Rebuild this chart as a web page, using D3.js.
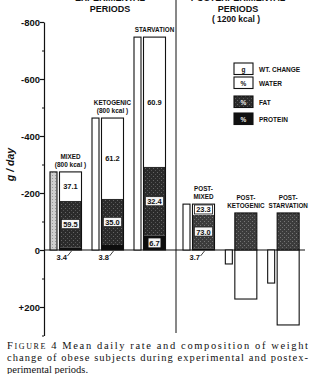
<!DOCTYPE html>
<html>
<head>
<meta charset="utf-8">
<script src="https://cdn.jsdelivr.net/npm/d3@7"></script>
<style>
  body { margin: 0; background: #fff; }
  svg { display: block; }
  text { fill: #111; }
</style>
</head>
<body>
<div id="chart"></div>
<script>
// groups, left 3 = experimental, right 3 = postexperimental
const expGroups = ["MIXED", "KETOGENIC", "STARVATION"];
const postGroups = ["POST-MIXED", "POST-KETOGENIC", "POST-STARVATION"];
const groupLines = [["MIXED", "(800 kcal )"], ["KETOGENIC", "(800 kcal )"], ["STARVATION"],
                    ["POST-", "MIXED"], ["POST-", "KETOGENIC"], ["POST-", "STARVATION"]];
// weight change g/day (negative = loss, drawn upward)
const wtChange = [-274, -463, -747, -161, 49, 116];
// composition of the loss, % (first four groups)
const waterPct = [37.1, 61.2, 60.9, 23.3];
const fatPct = [59.5, 35.0, 32.4, 73.0];
const proteinPct = [3.4, 3.8, 6.7, 3.7];
// post-ketogenic / post-starvation components, g/day
const postWater = [172, 263];
const postFat = [-130, -130];
const yTicks = [-800, -600, -400, -200, 0, 200];
const yMinor = [-700, -500, -300, -100, 100, 300];
const legendItems = [["g", "WT. CHANGE"], ["%", "WATER"], ["%", "FAT"], ["%", "PROTEIN"]];

const W = 322, H = 374;
const svg = d3.select("#chart").append("svg").attr("width", W).attr("height", H);

const defs = svg.append("defs");
// stipple for fat
const pat = defs.append("pattern").attr("id", "fat").attr("width", 4).attr("height", 4)
  .attr("patternUnits", "userSpaceOnUse");
pat.append("rect").attr("width", 4).attr("height", 4).attr("fill", "#2b2b2b");
pat.append("rect").attr("x", 1).attr("y", 0).attr("width", 1).attr("height", 1).attr("fill", "#666");
pat.append("rect").attr("x", 3).attr("y", 2).attr("width", 1).attr("height", 1).attr("fill", "#555");
const pat2 = defs.append("pattern").attr("id", "fatlight").attr("width", 4).attr("height", 4)
  .attr("patternUnits", "userSpaceOnUse");
pat2.append("rect").attr("width", 4).attr("height", 4).attr("fill", "#3c3c3c");
pat2.append("rect").attr("x", 0).attr("y", 1).attr("width", 1).attr("height", 1).attr("fill", "#777");
pat2.append("rect").attr("x", 2).attr("y", 3).attr("width", 1).attr("height", 1).attr("fill", "#6a6a6a");
const pat3 = defs.append("pattern").attr("id", "gray").attr("width", 3).attr("height", 3)
  .attr("patternUnits", "userSpaceOnUse");
pat3.append("rect").attr("width", 3).attr("height", 3).attr("fill", "#cfcfcf");
pat3.append("rect").attr("x", 1).attr("y", 1).attr("width", 1).attr("height", 1).attr("fill", "#999");

const y = d3.scaleLinear().domain([-800, 300]).range([22, 335.5]);
const xExp = d3.scaleBand().domain(expGroups).range([50, 176]);
const xPost = d3.scaleBand().domain(postGroups).range([183, 310]);
const allGroups = expGroups.concat(postGroups);
const bandX = (i) => i < 3 ? xExp(expGroups[i]) : xPost(postGroups[i - 3]);
const narrowW = 7, wideOff = 9.5, wideW = 22;

const sans = "'Liberation Sans', Arial, sans-serif";

// axis
const axis = svg.append("g").attr("transform", "translate(44,0)")
  .call(d3.axisLeft(y).tickValues(yTicks).tickSize(4).tickSizeOuter(0)
    .tickFormat(d => d > 0 ? "+" + d : d < 0 ? "-" + Math.abs(d) : "0"));
axis.select(".domain").attr("stroke", "#111").attr("stroke-width", 1.2);
axis.selectAll(".tick line").attr("stroke", "#111").attr("stroke-width", 1.2);
axis.selectAll(".tick text").attr("font-family", sans).attr("font-weight", "bold")
  .attr("font-size", 9.5).attr("x", -4).attr("fill", "#111");
svg.append("g").attr("transform", "translate(44,0)")
  .call(d3.axisLeft(y).tickValues(yMinor).tickSize(2).tickFormat(""))
  .call(g => g.select(".domain").remove())
  .selectAll("line").attr("stroke", "#111");

svg.append("text").attr("transform", "translate(14," + y(-300) + ") rotate(-90)")
  .attr("text-anchor", "middle").attr("font-family", sans).attr("font-weight", "bold")
  .attr("font-style", "italic").attr("font-size", 10.5).text("g / day");

// zero line and divider
svg.append("line").attr("x1", 44).attr("x2", 305).attr("y1", y(0)).attr("y2", y(0))
  .attr("stroke", "#111").attr("stroke-width", 1.2);
svg.append("line").attr("x1", 176).attr("x2", 176).attr("y1", 0).attr("y2", 333)
  .attr("stroke", "#111").attr("stroke-width", 1);

// titles (first line runs off the top edge, as in the scan)
const title = svg.append("g").attr("font-family", sans).attr("font-weight", "bold")
  .attr("font-size", 9).attr("text-anchor", "middle");
title.append("text").attr("x", 110).attr("y", 0.5).text("EXPERIMENTAL");
title.append("text").attr("x", 110).attr("y", 11.5).text("PERIODS");
title.append("text").attr("x", 238).attr("y", 0.5).text("POSTEXPERIMENTAL");
title.append("text").attr("x", 238).attr("y", 11.5).text("PERIODS");
title.append("text").attr("x", 236).attr("y", 21.5).attr("font-size", 8.5).text("( 1200 kcal )");

// bars
const bars = svg.append("g");
allGroups.forEach((g, i) => {
  const x0 = bandX(i);
  const t = wtChange[i];
  // narrow wt-change bar
  bars.append("rect").attr("x", x0).attr("width", narrowW)
    .attr("y", y(Math.min(0, t))).attr("height", Math.abs(y(t) - y(0)))
    .attr("fill", i === 0 ? "url(#gray)" : "#fff").attr("stroke", "#111").attr("stroke-width", 1.1);
  const wx = x0 + wideOff;
  const cx = wx + wideW / 2;
  if (i < 4) {
    const prot = t * proteinPct[i] / 100;
    const fat = t * fatPct[i] / 100;
    const segs = [
      { a: 0, b: prot, fill: "#0d0d0d" },
      { a: prot, b: prot + fat, fill: i === 3 ? "url(#fatlight)" : "url(#fat)" },
      { a: prot + fat, b: t, fill: "#fff" }
    ];
    bars.selectAll(null).data(segs).join("rect")
      .attr("x", wx).attr("width", wideW)
      .attr("y", d => y(d.b)).attr("height", d => y(d.a) - y(d.b))
      .attr("fill", d => d.fill);
    bars.append("rect").attr("x", wx).attr("width", wideW).attr("y", y(t))
      .attr("height", y(0) - y(t)).attr("fill", "none").attr("stroke", "#111").attr("stroke-width", 1.1);
    // water label
    const wy = y(prot + fat + (t - prot - fat) / 2);
    if (i === 3) {
      bars.append("rect").attr("x", cx - 9).attr("y", wy - 4.5).attr("width", 18).attr("height", 9)
        .attr("fill", "#fff").attr("stroke", "#111").attr("stroke-width", 0.8);
    }
    bars.append("text").attr("x", cx).attr("y", wy + 3).attr("text-anchor", "middle")
      .attr("font-family", sans).attr("font-weight", "bold").attr("font-size", 7.5)
      .text(waterPct[i].toFixed(1));
    // fat label in white box
    const fy = y(prot + fat / 2);
    bars.append("rect").attr("x", cx - 9).attr("y", fy - 4.5).attr("width", 18).attr("height", 9)
      .attr("fill", "#f4f4f4").attr("stroke", "#111").attr("stroke-width", 0.6);
    bars.append("text").attr("x", cx).attr("y", fy + 3).attr("text-anchor", "middle")
      .attr("font-family", sans).attr("font-weight", "bold").attr("font-size", 7.5)
      .text(fatPct[i].toFixed(1));
    // protein label
    if (i === 2) {
      const py = y(prot / 2);
      bars.append("rect").attr("x", cx - 6).attr("y", py - 4.5).attr("width", 12).attr("height", 9)
        .attr("fill", "#f4f4f4");
      bars.append("text").attr("x", cx).attr("y", py + 3).attr("text-anchor", "middle")
        .attr("font-family", sans).attr("font-weight", "bold").attr("font-size", 7.5)
        .text(proteinPct[i].toFixed(1));
    } else {
      bars.append("text").attr("x", wx - 3).attr("y", y(0) + 10)
        .attr("font-family", sans).attr("font-weight", "bold").attr("font-size", 7.5)
        .text(proteinPct[i].toFixed(1));
      bars.append("path")
        .attr("d", d3.line()([[wx + 8, y(0) + 6], [wx + 12, y(0) + 1]]))
        .attr("stroke", "#111").attr("stroke-width", 0.8);
    }
  } else {
    const wv = postWater[i - 4], fv = postFat[i - 4];
    bars.append("rect").attr("x", wx).attr("width", wideW).attr("y", y(0))
      .attr("height", y(wv) - y(0)).attr("fill", "#fff").attr("stroke", "#111").attr("stroke-width", 1.1);
    bars.append("rect").attr("x", wx).attr("width", wideW).attr("y", y(fv))
      .attr("height", y(0) - y(fv)).attr("fill", "url(#fatlight)").attr("stroke", "#111").attr("stroke-width", 1.1);
  }
  // group label above top of bar, centred on the wide bar
  const top = i < 4 ? t : postFat[i - 4];
  const lines = groupLines[i];
  lines.forEach((ln, k) => {
    bars.append("text").attr("x", cx).attr("y", y(top) - 5 - (lines.length - 1 - k) * 8)
      .attr("text-anchor", "middle").attr("font-family", sans).attr("font-weight", "bold")
      .attr("font-size", ln.startsWith("(") ? 6.5 : 6.3).text(ln);
  });
});

// legend
const leg = svg.append("g").attr("font-family", sans).attr("font-weight", "bold");
legendItems.forEach((d, i) => {
  const ly = [63, 77, 96, 113][i];
  const dark = i >= 2;
  leg.append("rect").attr("x", 234).attr("y", ly).attr("width", 19).attr("height", 11.5)
    .attr("fill", i === 2 ? "url(#fat)" : i === 3 ? "#111" : "#fff")
    .attr("stroke", "#111").attr("stroke-width", 1.1);
  leg.append("text").attr("x", 243.5).attr("y", ly + 8.5).attr("text-anchor", "middle")
    .attr("font-size", 6.5).style("fill", dark ? "#eee" : "#111").text(d[0]);
  leg.append("text").attr("x", 259).attr("y", ly + 8.5).attr("font-size", 6.5).text(d[1]);
});

// caption
const serif = "'Liberation Serif', 'DejaVu Serif', serif";
const cap = svg.append("g").attr("font-family", serif).attr("font-size", 10.5);
const l1 = cap.append("text").attr("x", 7).attr("y", 349).attr("textLength", 301)
  .attr("lengthAdjust", "spacing");
l1.append("tspan").text("F");
l1.append("tspan").attr("font-size", 8).text("IGURE");
l1.append("tspan").text(" 4  Mean daily rate and composition of weight");
cap.append("text").attr("x", 7).attr("y", 361).attr("textLength", 301).attr("lengthAdjust", "spacing")
  .text("change of obese subjects during experimental and postex-");
cap.append("text").attr("x", 7).attr("y", 373).text("perimental periods.");
</script>
</body>
</html>
